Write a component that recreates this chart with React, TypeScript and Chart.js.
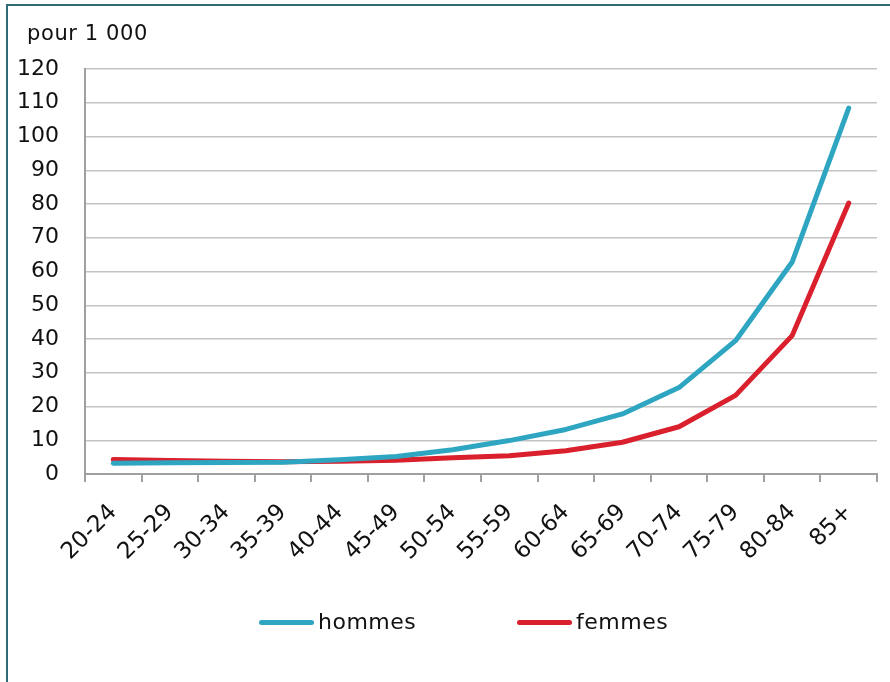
import React, { useEffect, useRef } from "react";
import { Chart, registerables } from "chart.js";

Chart.register(...registerables);

const categories = ["20-24", "25-29", "30-34", "35-39", "40-44", "45-49", "50-54", "55-59", "60-64", "65-69", "70-74", "75-79", "80-84", "85+"];
const hommes = [3.2, 3.3, 3.4, 3.5, 4.2, 5.2, 7.2, 9.9, 13.2, 17.8, 25.6, 39.5, 62.8, 108.4];
const femmes = [4.3, 4.0, 3.8, 3.6, 3.8, 4.1, 4.8, 5.4, 6.9, 9.4, 14.0, 23.3, 41.0, 80.3];
const seriesNames = ["hommes", "femmes"];
const unitLabel = "pour 1 000";

const COL_H = "#2ea6c2";
const COL_F = "#da1f2d";
const FONT = "'DejaVu Sans', sans-serif";

export default function App() {
  const ref = useRef<HTMLCanvasElement | null>(null);

  useEffect(() => {
    if (!ref.current) return;
    const unitPlugin = {
      id: "unitLabel",
      afterDraw(chart: any) {
        const ctx = chart.ctx;
        ctx.save();
        ctx.font = "21px " + FONT;
        try { ctx.letterSpacing = "0.6px"; } catch (e) {}
        ctx.fillStyle = "#111";
        ctx.textBaseline = "alphabetic";
        ctx.textAlign = "left";
        ctx.fillText(unitLabel, 27, 40);
        ctx.restore();
      },
    };
    const chart = new Chart(ref.current, {
      type: "line",
      data: {
        labels: categories,
        datasets: [
          { label: seriesNames[0], data: hommes, borderColor: COL_H, backgroundColor: COL_H, borderWidth: 5, pointRadius: 0, tension: 0, borderCapStyle: "round", borderJoinStyle: "round" },
          { label: seriesNames[1], data: femmes, borderColor: COL_F, backgroundColor: COL_F, borderWidth: 5, pointRadius: 0, tension: 0, borderCapStyle: "round", borderJoinStyle: "round" },
        ],
      },
      options: {
        animation: false,
        responsive: false,
        maintainAspectRatio: false,
        layout: { padding: { top: 69, right: 13, left: 0, bottom: 0 } },
        plugins: { legend: { display: false }, tooltip: { enabled: false } },
        scales: {
          x: {
            offset: true,
            grid: { offset: true, drawOnChartArea: false, drawTicks: true, tickLength: 8, color: "#a0a0a0", lineWidth: 2 },
            border: { color: "#a0a0a0", width: 2 },
            ticks: { minRotation: 45, maxRotation: 45, autoSkip: false, padding: 17, color: "#111", font: { family: FONT, size: 23 } },
            afterFit(scale: any) { scale.height = 208; },
          },
          y: {
            min: 0,
            max: 120,
            ticks: { stepSize: 10, padding: 26, color: "#111", font: { family: FONT, size: 22 } },
            grid: { color: "#c4c4c4", lineWidth: 1.5, drawTicks: false },
            border: { color: "#a0a0a0", width: 2 },
            afterFit(scale: any) { scale.width = 85; },
          },
        },
      },
      plugins: [unitPlugin],
    });
    return () => chart.destroy();
  }, []);

  const legendItem = (name: string, color: string, left: number) => (
    <div style={{ position: "absolute", left, top: 609, height: 26, display: "flex", alignItems: "center" }}>
      <span style={{ display: "inline-block", width: 55, height: 5, borderRadius: 3, background: color, marginRight: 4 }} />
      <span style={{ fontFamily: FONT, fontSize: 22, color: "#111", lineHeight: "26px", letterSpacing: "0.5px" }}>{name}</span>
    </div>
  );

  return (
    <div style={{ position: "fixed", left: 0, top: 0, width: 890, height: 682, background: "#fff", overflow: "hidden" }}>
      <canvas ref={ref} width={890} height={682} style={{ position: "absolute", left: 0, top: 0 }} />
      <div style={{ position: "absolute", left: 6, top: 4, width: 900, height: 700, borderTop: "2px solid #2f6b78", borderLeft: "2px solid #2f6b78", pointerEvents: "none" }} />
      {legendItem(seriesNames[0], COL_H, 259)}
      {legendItem(seriesNames[1], COL_F, 517)}
    </div>
  );
}
